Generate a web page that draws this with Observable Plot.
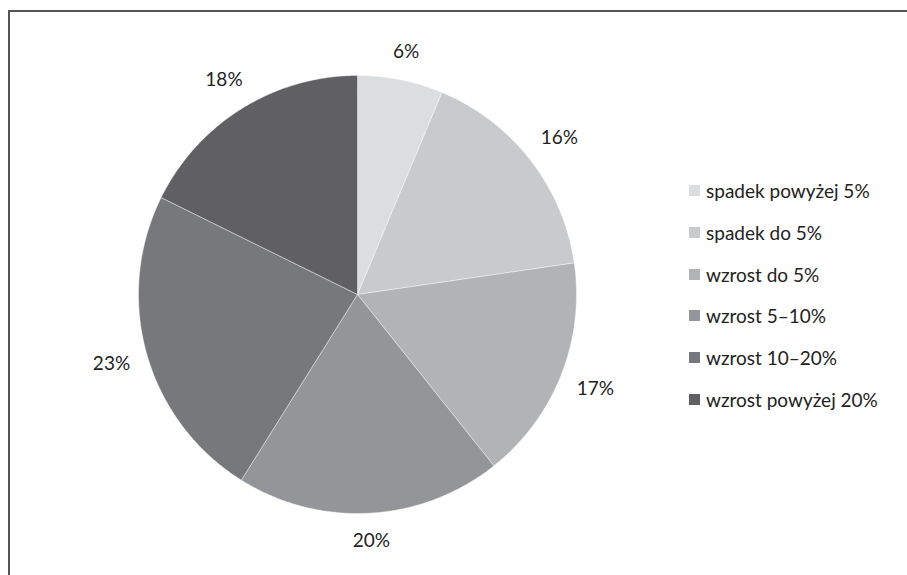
<!DOCTYPE html>
<html>
<head>
<meta charset="utf-8">
<script src="https://cdn.jsdelivr.net/npm/d3@7"></script>
<script src="https://cdn.jsdelivr.net/npm/@observablehq/plot@0.6"></script>
<style>
  html, body { margin: 0; padding: 0; background: #fff; overflow: hidden; }
  #wrap { position: relative; width: 907px; height: 575px; overflow: hidden; }
  #hline { position: absolute; left: 8px; top: 10px; width: 899px; height: 2px; background: #555; }
  #vline { position: absolute; left: 8px; top: 10px; width: 2px; height: 565px; background: #555; }
  #legend { position: absolute; left: 689px; top: 170px; font-family: Lato, sans-serif;
            font-size: 19px; color: #222; }
  .row { display: flex; align-items: center; height: 41.7px; }
  .sw { width: 11px; height: 11px; margin-right: 6px; }
</style>
</head>
<body>
<div id="wrap"><div id="chart"></div><div id="legend"></div><div id="hline"></div><div id="vline"></div></div>
<script>
const categories = ["spadek powyżej 5%", "spadek do 5%", "wzrost do 5%", "wzrost 5–10%", "wzrost 10–20%", "wzrost powyżej 20%"];
const values = [6.3, 16.4, 16.6, 19.6, 23.4, 17.7];
const labels = ["6%", "16%", "17%", "20%", "23%", "18%"];
const colors = ["#dcdddf", "#c9cacc", "#b2b3b5", "#949598", "#77787b", "#606062"];

const fontSize = 19;
const radiusPx = 219;

const arcs = d3.pie().sort(null).value(d => d)(values);
const poly = [];
arcs.forEach((a, i) => {
  const cat = categories[i];
  poly.push({x: 0, y: 0, cat});
  const n = Math.max(2, Math.ceil((a.endAngle - a.startAngle) / 0.01));
  for (let k = 0; k <= n; k++) {
    const t = a.startAngle + (a.endAngle - a.startAngle) * k / n;
    poly.push({x: Math.sin(t), y: Math.cos(t), cat});
  }
  poly.push({x: 0, y: 0, cat});
});
const labelGap = 1.09;
const labelData = arcs.map((a, i) => {
  const m = (a.startAngle + a.endAngle) / 2;
  const halfW = labels[i].length * 0.55 * fontSize / 2;
  const halfH = 0.37 * fontSize;
  const r = labelGap + (Math.abs(Math.sin(m)) * halfW + Math.abs(Math.cos(m)) * halfH) / radiusPx;
  return {x: r * Math.sin(m), y: r * Math.cos(m), text: labels[i]};
});

const chart = Plot.plot({
  width: 907,
  height: 575,
  marginLeft: 138,
  marginRight: 331,
  marginTop: 75,
  marginBottom: 62,
  x: {domain: [-1, 1], axis: null},
  y: {domain: [-1, 1], axis: null},
  color: {domain: categories, range: colors},
  style: {fontFamily: "Lato, sans-serif", background: "transparent", overflow: "visible"},
  marks: [
    Plot.line(poly, {x: "x", y: "y", z: "cat", fill: "cat", stroke: "#ffffff", strokeWidth: 0.7, strokeOpacity: 0.6, curve: "linear"}),
    Plot.text(labelData, {x: "x", y: "y", text: "text", fontSize: fontSize, fill: "#222"})
  ]
});
document.getElementById("chart").appendChild(chart);

const legend = d3.select("#legend");
categories.forEach((c, i) => {
  const row = legend.append("div").attr("class", "row");
  row.append("div").attr("class", "sw").style("background", colors[i]);
  row.append("span").text(c);
});
</script>
</body>
</html>
